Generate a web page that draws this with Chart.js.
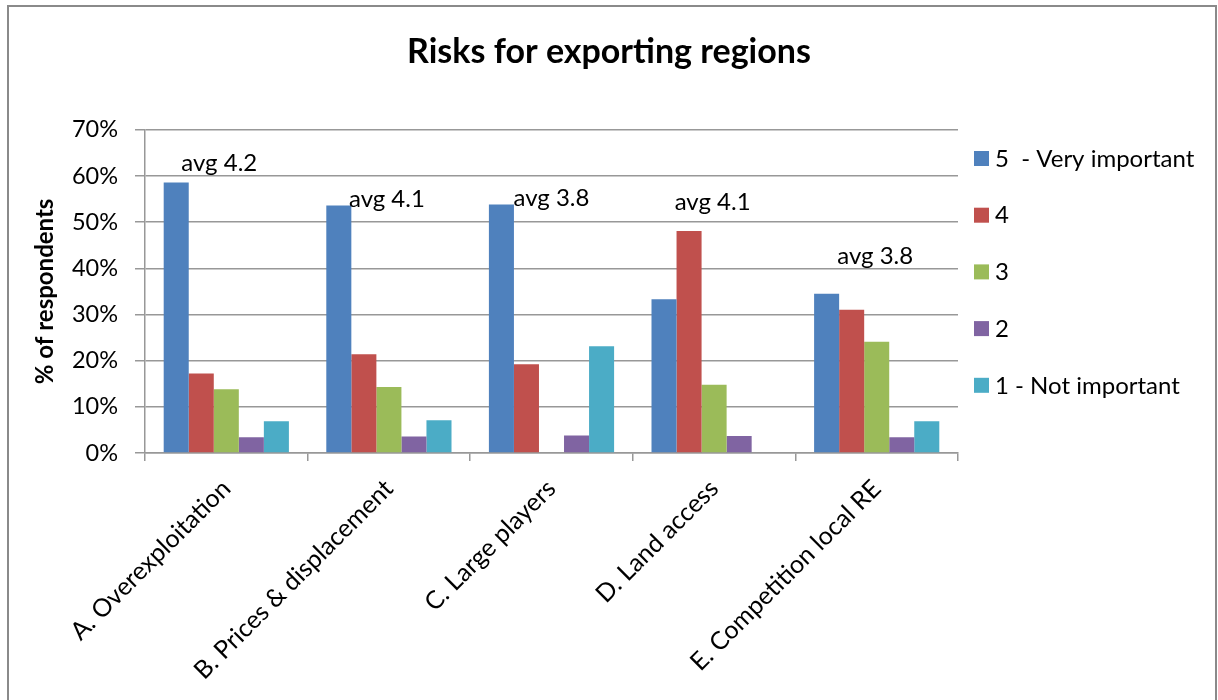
<!DOCTYPE html>
<html>
<head>
<meta charset="utf-8">
<script src="https://cdn.jsdelivr.net/npm/chart.js@4.4.1/dist/chart.umd.min.js"></script>
<style>
    html, body { margin: 0; padding: 0; background: #fff; }
    #wrap { position: relative; width: 1218px; height: 700px; }
    #frame {
        position: absolute; left: 7px; top: 5px; width: 1210px; height: 700px;
        border: 2px solid #8a8a8a; border-bottom: none; box-sizing: border-box;
        pointer-events: none;
    }
</style>
</head>
<body>
<div id="wrap">
    <canvas id="risks"></canvas>
    <div id="frame"></div>
</div>
<script>
// Données (% de répondants)
const categories = ['A. Overexploitation', 'B. Prices & displacement', 'C. Large players', 'D. Land access', 'E. Competition local RE']
const seriesNames = ['5  - Very important', '4', '3', '2', '1 - Not important']
const score5 = [58.6, 53.6, 53.8, 33.3, 34.5]
const score4 = [17.2, 21.4, 19.2, 48.1, 31.0]
const score3 = [13.8, 14.3, 0, 14.8, 24.1]
const score2 = [3.4, 3.6, 3.8, 3.7, 3.4]
const score1 = [6.9, 7.1, 23.1, 0, 6.9]
const avgLabels = ['avg 4.2', 'avg 4.1', 'avg 3.8', 'avg 4.1', 'avg 3.8']
const yTicks = [0, 10, 20, 30, 40, 50, 60, 70]

const colors = ['#4F81BD', '#C0504D', '#9BBB59', '#8064A2', '#4BACC6']
const gridColor = '#989898'
const font = 'Lato, "Open Sans", sans-serif'

// Placement des zones de texte "avg" : décalage x (px) et hauteur (en %)
const avgPlacement = [[-7, 61], [-2, 53.3], [0, 53.5], [-1.5, 52.7], [-1.5, 41]]

// Plugin pour la légende à droite et les étiquettes "avg"
const extras = {
    id: 'extras',
    afterDatasetsDraw(chart) {
        const ctx = chart.ctx
        const x = chart.scales.x
        const y = chart.scales.y
        ctx.save()
        ctx.fillStyle = '#000'
        ctx.font = '24px ' + font
        ctx.textAlign = 'center'
        ctx.textBaseline = 'alphabetic'
        avgLabels.forEach((txt, i) => {
            const p = avgPlacement[i]
            ctx.fillText(txt, x.getPixelForValue(i) + p[0], y.getPixelForValue(p[1]))
        })

        // légende
        ctx.textAlign = 'left'
        ctx.textBaseline = 'middle'
        chart.data.datasets.forEach((ds, i) => {
            const cy = 158 + i * 56.7
            ctx.fillStyle = ds.backgroundColor
            ctx.fillRect(974, cy - 7, 15, 15)
            ctx.fillStyle = '#000'
            ctx.fillText(ds.label, 995, cy + 1)
        })
        ctx.restore()
    }
}

const seriesValues = [score5, score4, score3, score2, score1]

new Chart(document.getElementById('risks'), {
    type: 'bar',
    data: {
        labels: categories,
        datasets: seriesNames.map((name, i) => ({
            label: name,
            data: seriesValues[i],
            backgroundColor: colors[i],
            borderWidth: 0,
            categoryPercentage: 0.77,
            barPercentage: 1.0
        }))
    },
    options: {
        responsive: true,
        maintainAspectRatio: false,
        animation: false,
        layout: { padding: 0 },
        plugins: {
            legend: { display: false },
            tooltip: { enabled: false },
            title: {
                display: true,
                text: 'Risks for exporting regions',
                color: '#000',
                font: { family: font, size: 34, weight: 'bold' },
                padding: { top: 32, bottom: 57 }
            }
        },
        scales: {
            x: {
                grid: { offset: true, drawOnChartArea: false, tickLength: 8, color: gridColor, lineWidth: 1.5 },
                border: { color: gridColor, width: 1.5 },
                ticks: {
                    color: '#000',
                    font: { family: font, size: 25, lineHeight: 0.85 },
                    minRotation: 45,
                    maxRotation: 45,
                    padding: 16
                },
                afterFit(scale) { scale.height = 247 }
            },
            y: {
                min: 0,
                max: 70,
                afterBuildTicks(scale) { scale.ticks = yTicks.map((v) => ({ value: v })) },
                grid: { color: gridColor, lineWidth: 1.5, tickLength: 10 },
                border: { color: gridColor, width: 1.5 },
                ticks: {
                    color: '#000',
                    font: { family: font, size: 23.5 },
                    padding: 17,
                    callback: (v) => v + '%'
                },
                title: {
                    display: true,
                    text: '% of respondents',
                    color: '#000',
                    font: { family: font, size: 24, weight: 'bold' },
                    padding: { top: 31, bottom: 0 }
                },
                afterFit(scale) { scale.width = 145 }
            },
            // axe vide à droite : réserve la place de la légende
            side: {
                position: 'right',
                grid: { display: false },
                border: { display: false },
                ticks: { display: false },
                afterFit(scale) { scale.width = 260 }
            }
        }
    },
    plugins: [extras]
})
</script>
</body>
</html>
